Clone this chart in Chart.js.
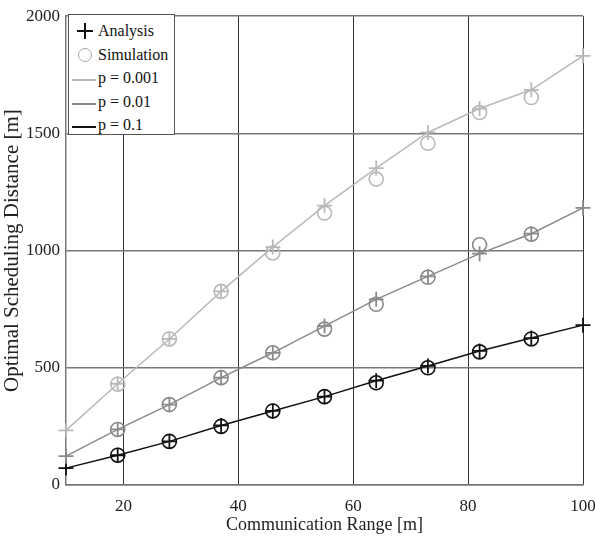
<!DOCTYPE html>
<html>
<head>
<meta charset="utf-8">
<script src="https://cdn.jsdelivr.net/npm/chart.js@4.4.1/dist/chart.umd.min.js"></script>
<style>
  html, body { margin: 0; padding: 0; background: #fff; }
  #wrap { position: relative; width: 595px; height: 536px; }
  #legend {
    position: absolute; left: 68px; top: 14px; width: 107px; height: 121px;
    background: #fff; border: 1px solid #555; box-sizing: border-box;
    font-family: "Liberation Serif", serif; font-size: 16px; color: #111;
  }
  .row { position: absolute; left: 0; height: 20px; width: 100%; }
  .row .txt { position: absolute; left: 29px; top: 0; line-height: 20px; white-space: nowrap; }
  .sym { position: absolute; }
  .cross-h { left: 8px; top: 9px; width: 16px; height: 2px; background: #111; }
  .cross-v { left: 15px; top: 2px; width: 2px; height: 16px; background: #111; }
  .circ { left: 9px; top: 3px; width: 12px; height: 12px; border: 1.5px solid #aaa; border-radius: 50%; }
  .ln { left: 3px; top: 11px; width: 24px; height: 0; border-top: 2px solid #000; }
</style>
</head>
<body>
<div id="wrap">
  <canvas id="c" width="595" height="536"></canvas>
  <div id="legend"></div>
</div>
<script>
// x positions (communication range, m)
const rangeAnalysis = [10, 19, 28, 37, 46, 55, 64, 73, 82, 91, 100];
const rangeSim = [19, 28, 37, 46, 55, 64, 73, 82, 91];

// p = 0.001
const anaP001 = [233, 432, 623, 826, 1015, 1192, 1352, 1504, 1606, 1686, 1831];
const simP001 = [430, 623, 826, 990, 1160, 1305, 1458, 1589, 1653];
// p = 0.01
const anaP01 = [123, 237, 343, 458, 564, 678, 792, 890, 987, 1072, 1182];
const simP01 = [237, 343, 458, 564, 665, 771, 886, 1025, 1070];
// p = 0.1
const anaP1 = [72, 127, 186, 254, 316, 377, 445, 508, 572, 627, 682];
const simP1 = [127, 186, 250, 316, 377, 436, 500, 568, 623];

const xTicks = [20, 40, 60, 80, 100];
const yTicks = [0, 500, 1000, 1500, 2000];

const seriesNames = ['p = 0.001', 'p = 0.01', 'p = 0.1'];
const seriesColors = ['#b9b9b9', '#8a8a8a', '#111111'];

const FONT = '"Liberation Serif", "Times New Roman", serif';

function pts(xs, ys) {
  return xs.map((x, i) => ({ x: x, y: ys[i] }));
}

const anaSets = [anaP001, anaP01, anaP1];
const simSets = [simP001, simP01, simP1];
const datasets = [];
for (let k = 0; k < 3; k++) {
  datasets.push({
    label: seriesNames[k] + ' analysis',
    data: pts(rangeAnalysis, anaSets[k]),
    borderColor: seriesColors[k],
    backgroundColor: seriesColors[k],
    borderWidth: 1.5,
    showLine: true,
    pointStyle: 'cross',
    pointRadius: 7.5,
    pointBorderWidth: 1.8,
    tension: 0,
    clip: false
  });
  datasets.push({
    label: seriesNames[k] + ' simulation',
    data: pts(rangeSim, simSets[k]),
    borderColor: seriesColors[k],
    backgroundColor: 'rgba(0,0,0,0)',
    showLine: false,
    pointStyle: 'circle',
    pointRadius: 7,
    pointBorderWidth: 1.6,
    clip: false
  });
}

new Chart(document.getElementById('c'), {
  type: 'scatter',
  data: { datasets: datasets },
  options: {
    responsive: false,
    animation: false,
    layout: { padding: { left: 0, right: 0, top: 12, bottom: 0 } },
    plugins: { legend: { display: false }, tooltip: { enabled: false } },
    scales: {
      x: {
        type: 'linear', min: 10, max: 100,
        afterBuildTicks: s => { s.ticks = xTicks.map(v => ({ value: v })); },
        afterFit: s => { s.height = 51; s.paddingLeft = 0; s.paddingRight = 12; },
        grid: { color: '#333', lineWidth: 1, drawTicks: false },
        border: { color: '#777', width: 1.5 },
        ticks: { color: '#222', font: { family: FONT, size: 17 }, padding: 11, maxRotation: 0,
                 callback: v => String(v) },
        title: { display: true, text: 'Communication Range [m]', color: '#222',
                 font: { family: FONT, size: 18 }, padding: { top: 0, bottom: 0 } }
      },
      y: {
        type: 'linear', min: 0, max: 2000,
        afterBuildTicks: s => { s.ticks = yTicks.map(v => ({ value: v })); },
        afterFit: s => { s.width = 66; },
        grid: { color: '#777', lineWidth: 1.5, drawTicks: false },
        border: { color: '#777', width: 1.5 },
        ticks: { color: '#222', font: { family: FONT, size: 17 }, padding: 6,
                 callback: v => String(v) },
        title: { display: true, text: 'Optimal Scheduling Distance [m]', color: '#222',
                 font: { family: FONT, size: 21 }, padding: { top: 0, bottom: 0 } }
      }
    }
  }
});

// legend box inside the plot
const legend = document.getElementById('legend');
const rows = [
  { sym: 'cross', text: 'Analysis' },
  { sym: 'circle', text: 'Simulation' },
  { sym: 'line', color: seriesColors[0], text: seriesNames[0] },
  { sym: 'line', color: seriesColors[1], text: seriesNames[1] },
  { sym: 'line', color: seriesColors[2], text: seriesNames[2] }
];
rows.forEach((r, i) => {
  const row = document.createElement('div');
  row.className = 'row';
  row.style.top = (6 + i * 23.5) + 'px';
  if (r.sym === 'cross') {
    row.innerHTML = '<div class="sym cross-h"></div><div class="sym cross-v"></div>';
  } else if (r.sym === 'circle') {
    row.innerHTML = '<div class="sym circ"></div>';
  } else {
    row.innerHTML = '<div class="sym ln" style="border-top-color:' + r.color + '"></div>';
  }
  const t = document.createElement('span');
  t.className = 'txt';
  t.textContent = r.text;
  row.appendChild(t);
  legend.appendChild(row);
});
</script>
</body>
</html>
